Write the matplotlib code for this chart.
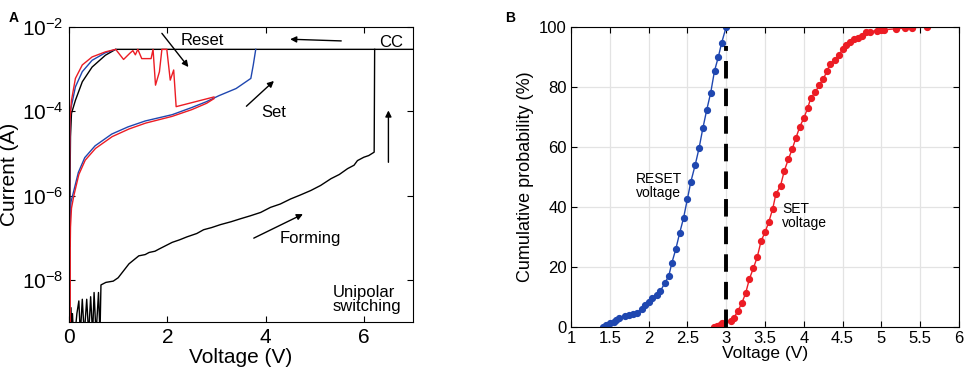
import numpy as np
import matplotlib
matplotlib.use("Agg")
import matplotlib.pyplot as plt
from matplotlib.ticker import FixedLocator, FuncFormatter, NullLocator

plt.rcParams['font.family'] = ['Liberation Sans', 'DejaVu Sans']
plt.rcParams['mathtext.fontset'] = 'custom'
plt.rcParams['mathtext.rm'] = 'Liberation Sans'
plt.rcParams['mathtext.default'] = 'regular'

# ---------------- Panel A data (voltage V, log10 current A) ----------------
forming_v = [0.0, 0.04, 0.055, 0.07, 0.09, 0.12, 0.16, 0.2, 0.23, 0.27, 0.31,
             0.36, 0.40, 0.44, 0.48, 0.51, 0.55, 0.60, 0.63, 0.65, 0.75, 0.9,
             1.0, 1.1, 1.22, 1.42, 1.55, 1.63, 1.75, 1.83, 2.10, 2.25, 2.4, 2.6,
             2.74, 2.9, 3.08, 3.3, 3.49, 3.69, 3.9, 4.1, 4.3, 4.51, 4.7, 4.92,
             5.12, 5.33, 5.5, 5.67, 5.8, 5.87, 6.0, 6.1, 6.21, 6.22]
forming_logi = [-9.3, -8.66, -9.3, -8.8, -9.3, -9.3, -8.8, -8.5, -9.3, -8.46, -9.3,
                -8.46, -9.3, -8.4, -9.3, -8.3, -9.3, -8.3, -9.3, -8.12, -8.06, -8.03,
                -7.95, -7.8, -7.62, -7.43, -7.40, -7.35, -7.32, -7.27, -7.11, -7.05, -6.98, -6.90,
                -6.81, -6.76, -6.69, -6.62, -6.55, -6.48, -6.40, -6.28, -6.20, -6.08, -5.99, -5.88,
                -5.76, -5.60, -5.50, -5.36, -5.28, -5.17, -5.09, -5.05, -4.97, -2.53]

black_reset_v = [7.0, 0.95, 0.74, 0.47, 0.27, 0.13, 0.05, 0.03, 0.02, 0.015]
black_reset_logi = [-2.53, -2.53, -2.67, -2.95, -3.30, -3.74, -4.05, -4.6, -5.8, -7.2]

blue_reset_v = [0.95, 0.74, 0.47, 0.27, 0.13, 0.03, 0.015, 0.01, 0.0]
blue_reset_logi = [-2.53, -2.61, -2.79, -3.06, -3.42, -3.98, -5.0, -6.5, -9.3]

red_reset_v = [0.0, 0.01, 0.02, 0.05, 0.13, 0.27, 0.47, 0.74, 0.95,
               1.11, 1.24, 1.30, 1.35, 1.40, 1.48, 1.67, 1.71, 1.76, 1.84, 1.89,
               1.99, 2.06, 2.13, 2.18, 2.95]
red_reset_logi = [-9.3, -6.0, -4.2, -3.74, -3.22, -2.90, -2.71, -2.59, -2.53,
                  -2.77, -2.62, -2.56, -2.66, -2.53, -2.75, -2.75, -2.53, -3.38, -3.06, -2.53,
                  -2.53, -3.26, -3.02, -3.89, -3.66]

blue_set_v = [0.01, 0.01, 0.02, 0.04, 0.09, 0.19, 0.32, 0.53, 0.87, 1.2, 1.55, 2.1,
              2.5, 2.8, 3.05, 3.4, 3.7, 3.75, 3.8]
blue_set_logi = [-9.3, -7.0, -6.5, -6.15, -5.92, -5.45, -5.10, -4.82, -4.54, -4.37, -4.23, -4.08,
                 -3.91, -3.77, -3.63, -3.46, -3.22, -2.90, -2.53]

red_set_v = [0.025, 0.025, 0.03, 0.05, 0.1, 0.2, 0.33, 0.54, 0.88, 1.22, 1.56, 2.1,
             2.5, 2.8, 2.95]
red_set_logi = [-9.3, -7.2, -6.75, -6.3, -5.99, -5.50, -5.16, -4.88, -4.60, -4.42, -4.28, -4.12,
                -3.96, -3.81, -3.70]

a_xticks = [0, 2, 4, 6]
a_yticks = [1e-8, 1e-6, 1e-4, 1e-2]

# ---------------- Panel B data ----------------
reset_v = [1.41, 1.45, 1.50, 1.55, 1.58, 1.62, 1.70, 1.75, 1.80, 1.85, 1.91, 1.96,
           2.00, 2.05, 2.11, 2.15, 2.21, 2.26, 2.30, 2.35, 2.40, 2.45, 2.50, 2.545,
           2.60, 2.65, 2.70, 2.75, 2.80, 2.85, 2.90, 2.94, 3.00]
reset_p = [0, 0.6, 1.1, 1.6, 2.3, 3.0, 3.6, 3.9, 4.2, 4.5, 5.9, 7.3,
           8.2, 9.7, 10.7, 11.8, 14.6, 16.9, 21.3, 25.8, 31.2, 36.2, 42.6, 48.4,
           53.9, 59.5, 66.3, 72.4, 78.0, 85.4, 90.1, 94.6, 100]

set_v = [2.84, 2.88, 2.92, 2.95, 3.06, 3.10, 3.15, 3.20, 3.25, 3.30, 3.35, 3.40,
         3.45, 3.50, 3.55, 3.60, 3.64, 3.70, 3.75, 3.80, 3.85, 3.90, 3.95, 4.00,
         4.05, 4.09, 4.15, 4.20, 4.25, 4.30, 4.34, 4.40, 4.45, 4.50, 4.55, 4.60,
         4.65, 4.70, 4.75, 4.80, 4.85, 4.94, 4.99, 5.04, 5.19, 5.30, 5.40, 5.59]
set_p = [0, 0.2, 0.6, 1.1, 2.0, 3.0, 5.2, 7.8, 11.1, 16.0, 19.5, 23.2,
         28.6, 31.5, 35.0, 39.4, 44.2, 47.0, 52.1, 55.8, 59.2, 63.1, 66.8, 69.6,
         72.9, 76.3, 78.3, 80.7, 82.6, 85.3, 87.8, 88.9, 90.6, 92.5, 94.0, 95.0,
         96.0, 96.4, 96.9, 98.2, 98.4, 98.8, 99.0, 99.1, 99.4, 99.6, 99.8, 100]

threshold_v = 3.0
threshold_top = 93.5
b_xticks = [1, 1.5, 2, 2.5, 3, 3.5, 4, 4.5, 5, 5.5, 6]
b_xticklabels = ['1', '1.5', '2', '2.5', '3', '3.5', '4', '4.5', '5', '5.5', '6']
b_yticks = [0, 20, 40, 60, 80, 100]

BLUE = '#1f47b0'
RED = '#ec1c24'

fig = plt.figure(figsize=(9.64, 3.72), dpi=100)

# ---------------- Panel A ----------------
axA = fig.add_axes([0.0716, 0.1344, 0.3568, 0.793])
def lg(a):
    return 10.0 ** np.asarray(a)

axA.plot(forming_v, lg(forming_logi), color='black', lw=1.0)
axA.plot(black_reset_v, lg(black_reset_logi), color='black', lw=1.0)
axA.plot(blue_set_v, lg(blue_set_logi), color=BLUE, lw=1.0)
axA.plot(blue_reset_v, lg(blue_reset_logi), color=BLUE, lw=1.0)
axA.plot(red_set_v, lg(red_set_logi), color=RED, lw=1.0)
axA.plot(red_reset_v, lg(red_reset_logi), color=RED, lw=1.0)

axA.set_yscale('log')
axA.set_xlim(0, 7)
axA.set_ylim(1e-9, 1e-2)
axA.xaxis.set_major_locator(FixedLocator(a_xticks))
axA.yaxis.set_major_locator(FixedLocator(a_yticks))
axA.yaxis.set_minor_locator(NullLocator())
axA.yaxis.set_major_formatter(FuncFormatter(lambda y, p: r'$10^{%d}$' % int(round(np.log10(y)))))
axA.tick_params(direction='in', top=True, right=True, labelsize=15, length=4, width=0.8, pad=4)
axA.set_xlabel('Voltage (V)', fontsize=15, labelpad=1)
axA.set_ylabel('Current (A)', fontsize=15, labelpad=2)
for s in axA.spines.values():
    s.set_linewidth(0.8)

arrow_kw = dict(arrowstyle='-|>', color='black', lw=1.0, mutation_scale=9, shrinkA=0, shrinkB=0)
axA.annotate('', xy=(2.43, 10**-2.95), xytext=(1.89, 10**-2.15), arrowprops=arrow_kw)
axA.annotate('', xy=(4.5, 10**-2.29), xytext=(5.54, 10**-2.33), arrowprops=arrow_kw)
axA.annotate('', xy=(4.17, 10**-3.28), xytext=(3.61, 10**-3.88), arrowprops=arrow_kw)
axA.annotate('', xy=(6.5, 10**-3.98), xytext=(6.5, 10**-5.21), arrowprops=arrow_kw)
axA.annotate('', xy=(4.76, 10**-6.44), xytext=(3.76, 10**-7.01), arrowprops=arrow_kw)

axA.text(2.27, 10**-2.33, 'Reset', fontsize=12, ha='left', va='center')
axA.text(6.55, 10**-2.36, 'CC', fontsize=12, ha='center', va='center')
axA.text(4.17, 10**-4.02, 'Set', fontsize=12, ha='center', va='center')
axA.text(4.29, 10**-7.01, 'Forming', fontsize=12, ha='left', va='center')
axA.text(5.37, 10**-8.47, 'Unipolar\nswitching', fontsize=12, ha='left', va='center',
         linespacing=0.95)

# ---------------- Panel B ----------------
axB = fig.add_axes([0.5923, 0.1218, 0.4025, 0.8056])
axB.grid(True, color='#e3e3e3', lw=0.9)
axB.set_axisbelow(True)
axB.plot(reset_v, reset_p, '-o', color=BLUE, lw=1.0, ms=4.2, mec=BLUE, mfc=BLUE)
axB.plot(set_v, set_p, '-o', color=RED, lw=1.0, ms=4.2, mec=RED, mfc=RED)
axB.plot([threshold_v, threshold_v], [0, threshold_top], color='black', lw=2.8,
         dashes=(4.5, 2.6))
axB.set_xlim(1, 6)
axB.set_ylim(0, 100)
axB.set_xticks(b_xticks)
axB.set_xticklabels(b_xticklabels)
axB.set_yticks(b_yticks)
axB.tick_params(direction='in', top=True, right=True, labelsize=12, length=4, width=0.8, pad=3)
axB.set_xlabel('Voltage (V)', fontsize=12.5, labelpad=0)
axB.set_ylabel('Cumulative probability (%)', fontsize=13, labelpad=4)
for s in axB.spines.values():
    s.set_linewidth(0.8)

axB.text(1.84, 47, 'RESET\nvoltage', fontsize=10, ha='left', va='center', linespacing=1.0)
axB.text(3.72, 37, 'SET\nvoltage', fontsize=10, ha='left', va='center', linespacing=1.0)

fig.text(0.0085, 0.97, 'A', fontsize=10, fontweight='bold', ha='left', va='top')
fig.text(0.5235, 0.97, 'B', fontsize=10, fontweight='bold', ha='left', va='top')

fig.savefig('out.png', dpi=100)
